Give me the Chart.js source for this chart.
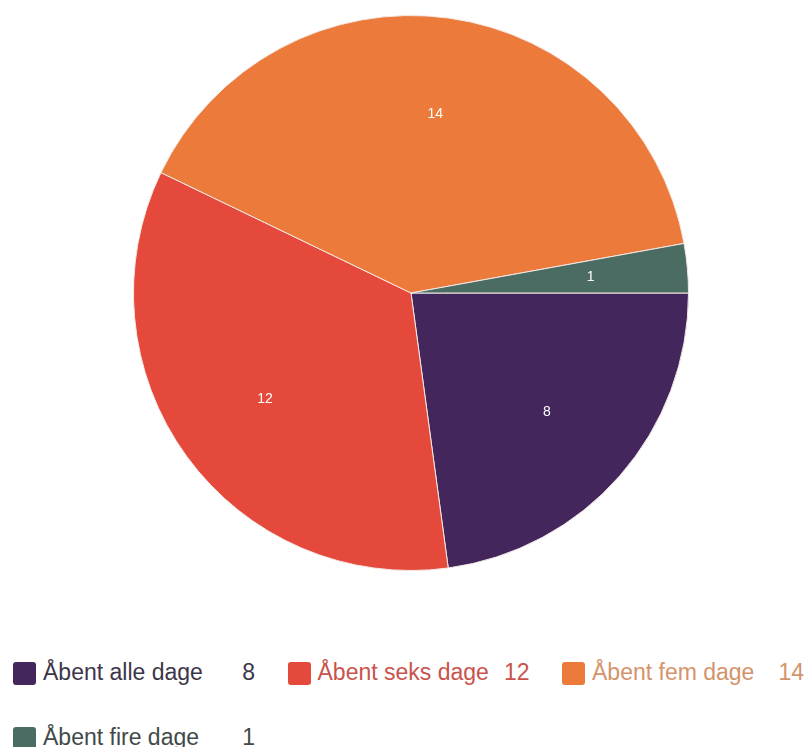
<!DOCTYPE html>
<html>
<head>
<meta charset="utf-8">
<script src="https://cdn.jsdelivr.net/npm/chart.js@4/dist/chart.umd.min.js"></script>
<style>
  html, body { margin: 0; padding: 0; background: #fff; }
  body { width: 806px; height: 747px; position: relative; overflow: hidden; font-family: "Liberation Sans", Arial, sans-serif; }
  #wrap { position: absolute; left: 0; top: 0; width: 806px; height: 586px; }
  #legend { position: absolute; left: 13px; top: 656px; width: 900px; }
  .row { display: flex; height: 65px; }
  .item { display: flex; align-items: flex-start; width: 274.5px; flex: none; }
  .sw { width: 23px; height: 23px; border-radius: 3px; margin-top: 6px; margin-right: 7px; flex: none; }
  .lab { width: 212px; flex: none; display: flex; justify-content: space-between; font-size: 23px; line-height: 26px; padding-top: 3px; white-space: nowrap; }
</style>
</head>
<body>
<div id="wrap"><canvas id="c"></canvas></div>
<div id="legend"></div>
<script>
const categories = ["Åbent alle dage", "Åbent seks dage", "Åbent fem dage", "Åbent fire dage"];
const values = [8, 12, 14, 1];
const sliceColors = ["#43265b", "#e4493b", "#ec7a3b", "#4b6c62"];
const legendTextColors = ["#3d3548", "#c9534c", "#d4936a", "#404a48"];

const labelPlugin = {
  id: 'sliceLabels',
  afterDatasetsDraw(chart) {
    const ctx = chart.ctx;
    const meta = chart.getDatasetMeta(0);
    ctx.save();
    ctx.fillStyle = '#ffffff';
    ctx.font = '14px "Liberation Sans", Arial, sans-serif';
    ctx.textAlign = 'center';
    ctx.textBaseline = 'middle';
    meta.data.forEach((arc, i) => {
      const p = arc.getProps(['x', 'y', 'startAngle', 'endAngle', 'outerRadius'], true);
      const mid = (p.startAngle + p.endAngle) / 2;
      const r = p.outerRadius * 0.65;
      ctx.fillText(String(values[i]), p.x + Math.cos(mid) * r, p.y + Math.sin(mid) * r);
    });
    ctx.restore();
  }
};

new Chart(document.getElementById('c'), {
  type: 'pie',
  data: {
    labels: categories,
    datasets: [{
      data: values,
      backgroundColor: sliceColors,
      borderColor: '#f4e8e4',
      borderWidth: 1
    }]
  },
  options: {
    responsive: true,
    maintainAspectRatio: false,
    animation: false,
    rotation: 90,
    layout: { padding: { top: 15, bottom: 15, left: 133, right: 117 } },
    plugins: { legend: { display: false }, tooltip: { enabled: false } }
  },
  plugins: [labelPlugin]
});

const legend = document.getElementById('legend');
const perRow = 3;
let row;
categories.forEach((name, i) => {
  if (i % perRow === 0) { row = document.createElement('div'); row.className = 'row'; legend.appendChild(row); }
  const item = document.createElement('div'); item.className = 'item';
  const sw = document.createElement('div'); sw.className = 'sw'; sw.style.background = sliceColors[i];
  const lab = document.createElement('div'); lab.className = 'lab'; lab.style.color = legendTextColors[i];
  const a = document.createElement('span'); a.textContent = name;
  const b = document.createElement('span'); b.textContent = String(values[i]);
  lab.appendChild(a); lab.appendChild(b);
  item.appendChild(sw); item.appendChild(lab);
  row.appendChild(item);
});
</script>
</body>
</html>
